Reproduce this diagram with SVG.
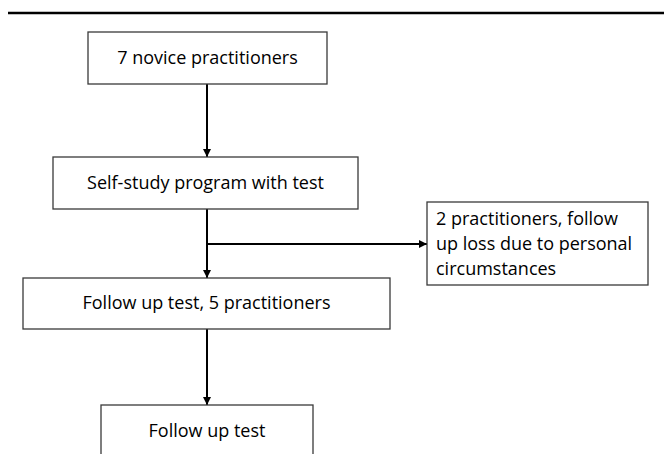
<svg xmlns="http://www.w3.org/2000/svg" width="664" height="454" viewBox="0 0 664 454">
<style>
.box{fill:#fff;stroke:#3a3a3a;stroke-width:1.3}
.t{font-family:"Open Sans","Noto Sans","Liberation Sans",sans-serif;font-size:18px;fill:#000}
.c{text-anchor:middle}
.con{fill:none;stroke:#000;stroke-width:2}
</style>
<defs>
<marker id="ah" viewBox="0 0 10 10" refX="10" refY="5" markerWidth="4" markerHeight="4" orient="auto" markerUnits="strokeWidth">
<path d="M0,0 L10,5 L0,10 z" fill="#000"/>
</marker>
</defs>
<line x1="8" y1="13" x2="664" y2="13" stroke="#000" stroke-width="2.5"/>
<g id="connectors">
<line class="con" x1="207" y1="84" x2="207" y2="157" marker-end="url(#ah)"/>
<line class="con" x1="207" y1="209" x2="207" y2="278" marker-end="url(#ah)"/>
<line class="con" x1="207" y1="244" x2="427" y2="244" marker-end="url(#ah)"/>
<line class="con" x1="207" y1="329" x2="207" y2="405" marker-end="url(#ah)"/>
</g>
<g id="n1">
<rect class="box" x="88" y="32" width="239" height="52"/>
<text class="t c" x="207.5" y="64">7 novice practitioners</text>
</g>
<g id="n2">
<rect class="box" x="53" y="157" width="305" height="52"/>
<text class="t c" x="205.5" y="189">Self-study program with test</text>
</g>
<g id="n3">
<rect class="box" x="427" y="202" width="221" height="83"/>
<text class="t" x="436" y="225">2 practitioners, follow</text>
<text class="t" x="436" y="250">up loss due to personal</text>
<text class="t" x="436" y="275">circumstances</text>
</g>
<g id="n4">
<rect class="box" x="23" y="278" width="367" height="51"/>
<text class="t c" x="206.5" y="309">Follow up test, 5 practitioners</text>
</g>
<g id="n5">
<rect class="box" x="101" y="405" width="212" height="70"/>
<text class="t c" x="207" y="437">Follow up test</text>
</g>
</svg>
